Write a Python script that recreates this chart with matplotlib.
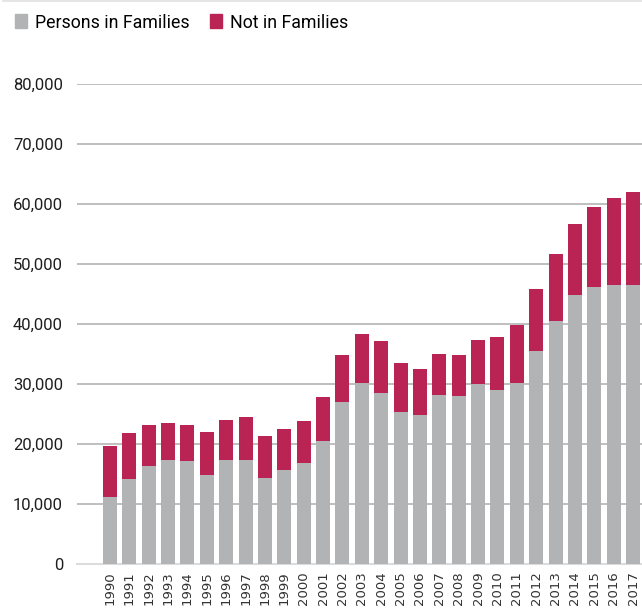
import matplotlib.pyplot as plt
from matplotlib.patches import Patch
from matplotlib.ticker import FuncFormatter

years = list(range(1990, 2018))

# persons living in families
in_families = [11200, 14200, 16300, 17300, 17200, 14800, 17300, 17300, 14300, 15700,
               16800, 20500, 27000, 30200, 28500, 25300, 24800, 28200, 28000, 30000,
               29000, 30200, 35500, 40500, 44800, 46200, 46500, 46500]

# total people (families + not in families)
totals = [19700, 21800, 23200, 23500, 23200, 22000, 24000, 24500, 21300, 22500,
          23800, 27800, 34800, 38300, 37200, 33500, 32500, 35000, 34800, 37300,
          37800, 39800, 45800, 51700, 56700, 59500, 61000, 62000]

not_in_families = [t - f for t, f in zip(totals, in_families)]

gray = '#b1b3b5'
red = '#b92454'

fig = plt.figure(figsize=(6.42, 6.13), dpi=100)
ax = fig.add_axes([77 / 642, 49 / 613, 565 / 642, 480 / 613])

x = range(len(years))
ax.bar(x, in_families, width=0.72, color=gray, zorder=3)
ax.bar(x, not_in_families, bottom=in_families, width=0.72, color=red, zorder=3)

ax.set_ylim(0, 80000)
ax.set_xlim(-1.7, 27.46)
ax.set_yticks(range(0, 80001, 10000))
ax.yaxis.set_major_formatter(FuncFormatter(lambda v, p: f'{int(v):,}'))
ax.set_xticks(list(x))
ax.set_xticklabels([str(y) for y in years], rotation=90, fontsize=9.5,
                   color='#333333', family='DejaVu Sans')
ax.tick_params(axis='y', length=0, pad=10, labelsize=12, labelcolor='#1e1e1e')
ax.tick_params(axis='x', length=0, pad=5)
for lbl in ax.get_yticklabels():
    lbl.set_family('Roboto')

ax.grid(axis='y', color='#b4b4b4', linewidth=1.2, zorder=0)
for side in ['top', 'right', 'left']:
    ax.spines[side].set_visible(False)
ax.spines['bottom'].set_color('#dcdcdc')
ax.spines['bottom'].set_linewidth(1.5)

# thin rule along the top edge
fig.add_artist(plt.Line2D([3 / 642, 1], [0.999, 0.999], color='#e0e0e0', linewidth=1.2))

handles = [Patch(color=gray, label='Persons in Families'),
           Patch(color=red, label='Not in Families')]
fig.legend(handles=handles, loc='upper left', bbox_to_anchor=(-0.002, 1.004), ncol=2,
           frameon=False, handlelength=0.68, handleheight=0.85,
           handletextpad=0.45, columnspacing=1.15, prop={'family': 'Roboto', 'size': 12.8})

fig.savefig('out.png', dpi=100)
